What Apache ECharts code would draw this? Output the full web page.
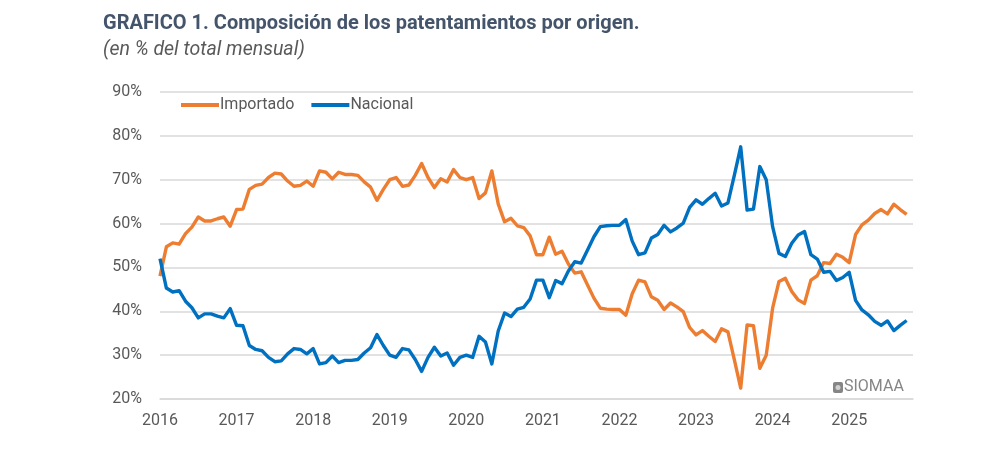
<!DOCTYPE html>
<html>
<head>
<meta charset="utf-8">
<script src="https://cdn.jsdelivr.net/npm/echarts@6/dist/echarts.min.js"></script>
<style>
  html, body { margin: 0; padding: 0; background: #ffffff; }
  #chart { width: 990px; height: 463px; }
</style>
</head>
<body>
<div id="chart"></div>
<script>
// ---- Data (monthly, Jan 2016 - Oct 2025), % of monthly total ----
const years = [2016, 2017, 2018, 2019, 2020, 2021, 2022, 2023, 2024, 2025];

const importado = [
  48.0, 54.7, 55.6, 55.3, 57.7, 59.2, 61.5, 60.6, 60.6, 61.1, 61.5, 59.4,
  63.2, 63.3, 67.8, 68.7, 69.0, 70.5, 71.5, 71.3, 69.7, 68.5, 68.7, 69.7,
  68.5, 72.0, 71.7, 70.2, 71.7, 71.2, 71.2, 71.0, 69.5, 68.3, 65.3, 67.8,
  70.0, 70.5, 68.5, 68.8, 71.0, 73.7, 70.5, 68.2, 70.2, 69.5, 72.3, 70.5,
  70.0, 70.5, 65.7, 67.0, 72.0, 64.5, 60.4, 61.2, 59.5, 59.1, 57.2, 52.9,
  52.9, 56.9, 53.0, 53.7, 50.8, 48.7, 49.0, 46.0, 43.0, 40.7, 40.5, 40.4,
  40.4, 39.1, 44.0, 47.1, 46.7, 43.3, 42.5, 40.4, 41.9, 41.0, 39.9, 36.3,
  34.6, 35.6, 34.3, 33.1, 36.0, 35.3, 29.0, 22.5, 36.9, 36.7, 27.0, 30.0,
  40.7, 46.8, 47.5, 44.5, 42.6, 41.8, 47.1, 48.1, 51.1, 50.9, 53.0, 52.3,
  51.1, 57.5, 59.7, 60.8, 62.3, 63.2, 62.2, 64.4, 63.2, 62.1
];

const nacional = [
  52.0, 45.3, 44.4, 44.7, 42.3, 40.8, 38.5, 39.4, 39.4, 38.9, 38.5, 40.6,
  36.8, 36.7, 32.2, 31.3, 31.0, 29.5, 28.5, 28.7, 30.3, 31.5, 31.3, 30.3,
  31.5, 28.0, 28.3, 29.8, 28.3, 28.8, 28.8, 29.0, 30.5, 31.7, 34.7, 32.2,
  30.0, 29.5, 31.5, 31.2, 29.0, 26.3, 29.5, 31.8, 29.8, 30.5, 27.7, 29.5,
  30.0, 29.5, 34.3, 33.0, 28.0, 35.5, 39.6, 38.8, 40.5, 40.9, 42.8, 47.1,
  47.1, 43.1, 47.0, 46.3, 49.2, 51.3, 51.0, 54.0, 57.0, 59.3, 59.5, 59.6,
  59.6, 60.9, 56.0, 52.9, 53.3, 56.7, 57.5, 59.6, 58.1, 59.0, 60.1, 63.7,
  65.4, 64.4, 65.7, 66.9, 64.0, 64.7, 71.0, 77.5, 63.1, 63.3, 73.0, 70.0,
  59.3, 53.2, 52.5, 55.5, 57.4, 58.2, 52.9, 51.9, 48.9, 49.1, 47.0, 47.7,
  48.9, 42.5, 40.3, 39.2, 37.7, 36.8, 37.8, 35.6, 36.8, 37.9
];

const yTicks = [20, 30, 40, 50, 60, 70, 80, 90];
const seriesNames = ['Importado', 'Nacional'];

// month categories (one extra slot after the last month, as in the original plot area)
const categories = [];
years.forEach(y => {
  for (let m = 1; m <= 12; m++) categories.push(y + '-' + (m < 10 ? '0' + m : m));
});
const cats = categories.slice(0, importado.length + 1);

const FONT = 'Roboto';
const chart = echarts.init(document.getElementById('chart'), null, { renderer: 'canvas' });

chart.setOption({
  animation: false,
  backgroundColor: '#ffffff',
  title: [
    {
      text: 'GRAFICO 1. Composición de los patentamientos por origen.',
      left: 98, top: 9,
      textStyle: { fontFamily: FONT, fontSize: 20, fontWeight: 'bold', color: '#44546a' }
    },
    {
      text: '(en % del total mensual)',
      left: 98, top: 35,
      textStyle: { fontFamily: FONT, fontSize: 19.5, fontWeight: 'normal', fontStyle: 'italic', color: '#595959' }
    }
  ],
  legend: {
    data: seriesNames,
    left: 176, top: 92,
    icon: 'rect', itemWidth: 38, itemHeight: 4, itemGap: 17,
    textStyle: { fontFamily: FONT, fontSize: 16, color: '#595959', padding: [0, 0, 0, -4] }
  },
  grid: { left: 160, right: 77, top: 92, bottom: 64, containLabel: false },
  xAxis: {
    type: 'category',
    data: cats,
    boundaryGap: false,
    axisLine: { show: true, lineStyle: { color: '#d9d9d9', width: 1.5 } },
    axisTick: { show: false },
    axisLabel: {
      interval: 11,
      margin: 14,
      fontFamily: FONT, fontSize: 16, color: '#595959',
      formatter: v => v.slice(0, 4)
    },
    splitLine: { show: false }
  },
  yAxis: {
    type: 'value',
    min: yTicks[0], max: yTicks[yTicks.length - 1], interval: 10,
    axisLine: { show: false },
    axisTick: { show: false },
    axisLabel: { margin: 18, fontFamily: FONT, fontSize: 16, color: '#595959', formatter: '{value}%' },
    splitLine: { lineStyle: { color: '#d9d9d9', width: 1.5 } }
  },
  series: [
    {
      name: seriesNames[0], type: 'line', data: importado,
      symbol: 'none', color: '#ed7d31',
      lineStyle: { width: 3.4, color: '#ed7d31', join: 'round' }
    },
    {
      name: seriesNames[1], type: 'line', data: nacional,
      symbol: 'none', color: '#0070c0',
      lineStyle: { width: 3.4, color: '#0070c0', join: 'round' }
    }
  ],
  graphic: [
    {
      type: 'rect', left: 833, top: 382,
      shape: { width: 10, height: 11, r: 2 },
      style: { fill: '#858585' }
    },
    {
      type: 'circle', left: 835.5, top: 385,
      shape: { r: 2.5 },
      style: { fill: '#d0d0d0' }
    },
    {
      type: 'text', left: 844, top: 379,
      style: { text: 'SIOMAA', font: '16px Roboto', fill: '#858585' }
    }
  ]
});
</script>
</body>
</html>
